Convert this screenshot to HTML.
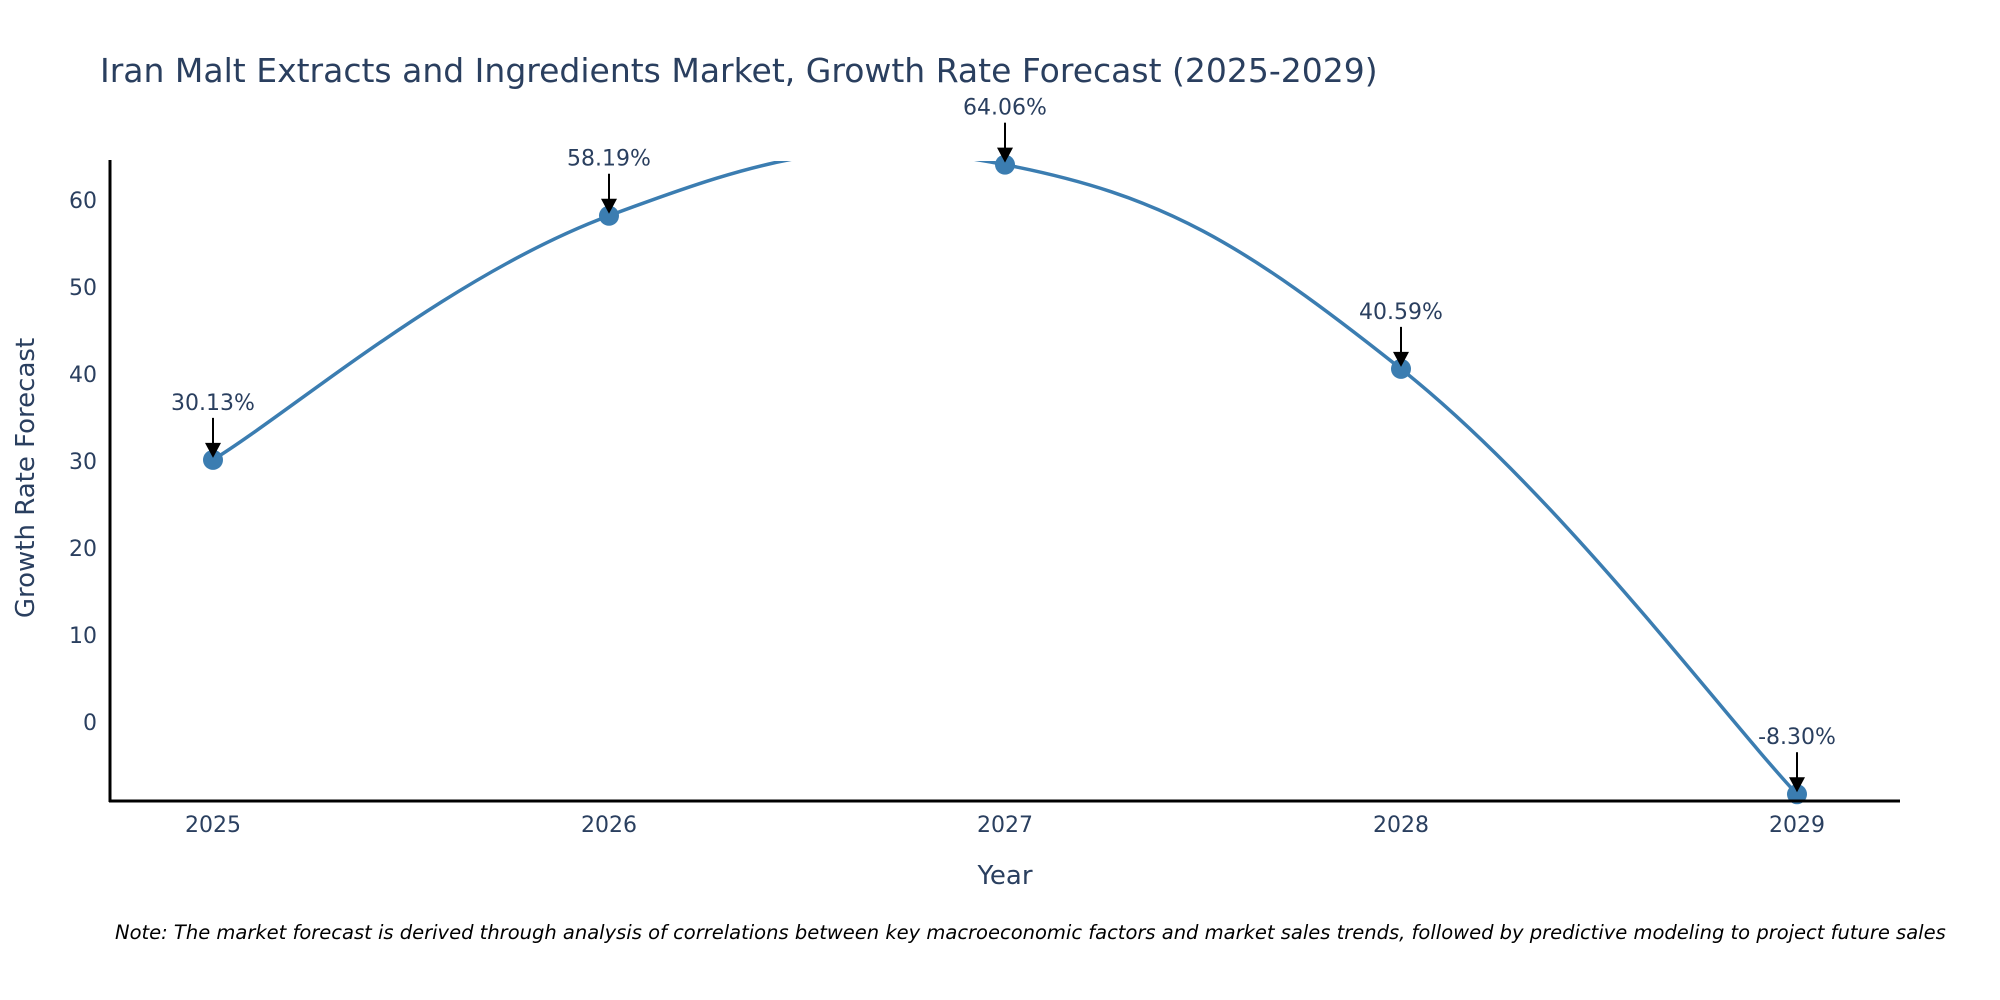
<!DOCTYPE html>
<html><head><meta charset="utf-8"><style>
html,body{margin:0;padding:0;background:#fff;}
svg{display:block;font-family:"DejaVu Sans","Liberation Sans",sans-serif;}
</style></head><body>
<svg id="chart" width="2000" height="1000" viewBox="0 0 2000 1000">
<defs><clipPath id="plotclip"><rect x="110" y="161" width="1790" height="640"/></clipPath></defs>
<text x="100" y="82" font-size="33" fill="#2a3f5f">Iran Malt Extracts and Ingredients Market, Growth Rate Forecast (2025-2029)</text>
<g id="yticks"></g><g id="xticks"></g>
<g clip-path="url(#plotclip)"><path id="line" fill="none" stroke="#3b7db1" stroke-width="3.5"/></g>
<g id="points"></g><g id="annos"></g>
<line x1="109" y1="801" x2="1900" y2="801" stroke="#000" stroke-width="3"/>
<line x1="110" y1="160" x2="110" y2="802" stroke="#000" stroke-width="3"/>
<text transform="translate(34,478) rotate(-90)" text-anchor="middle" font-size="26" fill="#2a3f5f">Growth Rate Forecast</text>
<text x="1005" y="884" text-anchor="middle" font-size="26" fill="#2a3f5f">Year</text>
<text x="115" y="939" font-size="19.5" font-style="italic" fill="#000">Note: The market forecast is derived through analysis of correlations between key macroeconomic factors and market sales trends, followed by predictive modeling to project future sales</text>
</svg>
<script>
const years = ["2025","2026","2027","2028","2029"];
const values = [30.13, 58.19, 64.06, 40.59, -8.30];
const labels = ["30.13%","58.19%","64.06%","40.59%","-8.30%"];
const yTicks = [0,10,20,30,40,50,60];
const NS="http://www.w3.org/2000/svg";
function xs(i){return 213 + i*396;}
function ys(v){return 722 - 8.7*v;}
function mk(tag,attrs,parent){const e=document.createElementNS(NS,tag);for(const k in attrs)e.setAttribute(k,attrs[k]);parent.appendChild(e);return e;}
const yg=document.getElementById('yticks'), xg=document.getElementById('xticks');
yTicks.forEach(t=>{const e=mk('text',{x:97,y:ys(t)+8,'text-anchor':'end','font-size':22,fill:'#2a3f5f'},yg);e.textContent=t;

});
years.forEach((y,i)=>{const e=mk('text',{x:xs(i),y:832,'text-anchor':'middle','font-size':22,fill:'#2a3f5f'},xg);e.textContent=y;

});
const P=values.map((v,i)=>[xs(i),ys(v)]);
let d='M'+P[0][0]+','+P[0][1];
for(let i=0;i<P.length-1;i++){const p0=P[Math.max(0,i-1)],p1=P[i],p2=P[i+1],p3=P[Math.min(P.length-1,i+2)];
const t=0.2;
const c1=[p1[0]+(p2[0]-p0[0])*t,p1[1]+(p2[1]-p0[1])*t],c2=[p2[0]-(p3[0]-p1[0])*t,p2[1]-(p3[1]-p1[1])*t];
d+=' C'+c1+' '+c2+' '+p2;}
document.getElementById('line').setAttribute('d',d);
const pg=document.getElementById('points'),ag=document.getElementById('annos');
P.forEach((p,i)=>{const c=mk('circle',{cx:p[0],cy:p[1],r:10,fill:'#3b7db1'},pg);


const l=mk('line',{x1:p[0],y1:p[1]-42,x2:p[0],y2:p[1]-14,stroke:'#000','stroke-width':2},ag);


const h=mk('path',{d:'M'+(p[0]-8)+','+(p[1]-17)+' L'+(p[0]+8)+','+(p[1]-17)+' L'+p[0]+','+(p[1]-2)+' Z',fill:'#000'},ag);


const t=mk('text',{x:p[0],y:p[1]-50,'text-anchor':'middle','font-size':22,fill:'#2a3f5f'},ag);t.textContent=labels[i];

});
</script>
</body></html>
